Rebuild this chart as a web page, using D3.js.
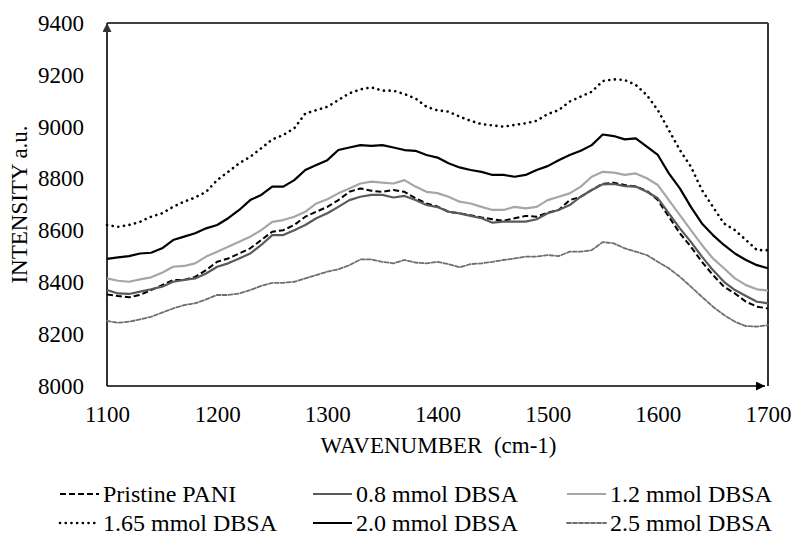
<!DOCTYPE html>
<html>
<head>
<meta charset="utf-8">
<script src="https://cdn.jsdelivr.net/npm/d3@7"></script>
<style>
  body { margin: 0; background: #fff; }
  svg text { font-family: "Liberation Serif", "Times New Roman", serif !important; fill: #000; }
</style>
</head>
<body>
<svg id="chart"></svg>
<script>
// wavenumber samples (cm-1), every 10 units
const wavenumbers = d3.range(1100, 1701, 10);

const pristine = [8353,8347,8342,8351,8370,8389,8409,8409,8421,8447,8479,8492,8511,8531,8563,8595,
  8601,8621,8653,8672,8691,8717,8749,8762,8753,8749,8756,8749,8724,8704,8692,
  8672,8666,8659,8650,8643,8637,8647,8656,8653,8668,8679,8717,8730,8756,8780,
  8784,8775,8769,8753,8717,8653,8589,8537,8479,8428,8383,8357,8325,8306,8299];

const dbsa08 = [8370,8357,8355,8364,8373,8383,8402,8409,8415,8434,8460,8473,8492,8511,8544,8582,
  8582,8601,8621,8647,8666,8691,8717,8730,8737,8737,8727,8733,8717,8698,8690,
  8672,8666,8656,8647,8630,8634,8634,8634,8643,8666,8679,8698,8730,8756,8778,
  8779,8771,8769,8749,8724,8666,8608,8556,8499,8447,8402,8370,8347,8325,8319];

const dbsa12 = [8415,8406,8402,8411,8419,8437,8460,8463,8473,8499,8518,8537,8556,8576,8601,8633,
  8640,8653,8672,8704,8720,8743,8762,8781,8788,8784,8781,8794,8769,8749,8744,
  8730,8711,8704,8691,8679,8679,8691,8685,8691,8717,8730,8743,8769,8807,8826,
  8823,8814,8820,8801,8775,8717,8659,8601,8544,8492,8454,8415,8389,8373,8368];

const dbsa165 = [8621,8614,8621,8633,8653,8666,8691,8711,8727,8749,8794,8826,8859,8884,8917,8951,
  8968,8994,9051,9064,9077,9103,9129,9144,9152,9139,9139,9126,9109,9077,9063,
  9058,9039,9023,9010,9005,9000,9007,9013,9023,9049,9064,9097,9116,9135,9176,
  9183,9180,9161,9122,9064,8987,8910,8846,8756,8691,8627,8601,8563,8524,8524];

const dbsa20 = [8490,8496,8501,8511,8514,8531,8563,8576,8589,8608,8621,8647,8679,8717,8737,8769,
  8769,8794,8833,8852,8871,8910,8920,8929,8926,8929,8920,8910,8907,8891,8881,
  8859,8843,8833,8826,8814,8814,8807,8814,8833,8848,8871,8891,8907,8929,8970,
  8964,8951,8955,8923,8891,8820,8762,8691,8627,8582,8544,8511,8486,8466,8454];

const dbsa25 = [8251,8244,8248,8257,8267,8283,8299,8312,8319,8334,8351,8351,8357,8370,8386,8398,
  8398,8402,8415,8428,8441,8450,8466,8488,8488,8479,8473,8486,8476,8473,8479,
  8470,8458,8470,8473,8479,8486,8492,8499,8499,8505,8501,8518,8518,8524,8555,
  8550,8531,8518,8505,8479,8454,8421,8383,8344,8306,8274,8248,8231,8229,8235];

const seriesNames = ['Pristine PANI', '0.8 mmol DBSA', '1.2 mmol DBSA',
  '1.65 mmol DBSA', '2.0 mmol DBSA', '2.5 mmol DBSA'];
const seriesValues = [pristine, dbsa08, dbsa12, dbsa165, dbsa20, dbsa25];

const xTicks = [1100, 1200, 1300, 1400, 1500, 1600, 1700];
const yTicks = [8000, 8200, 8400, 8600, 8800, 9000, 9200, 9400];

// line styles, same order as seriesNames
const styles = [
  {color: '#000000', width: 2, dash: '6,3', cap: 'butt'},
  {color: '#5a5a5a', width: 2.2, dash: null, cap: 'butt'},
  {color: '#a6a6a6', width: 2.2, dash: null, cap: 'butt'},
  {color: '#000000', width: 2.6, dash: '0.1,5.6', cap: 'round'},
  {color: '#000000', width: 2.2, dash: null, cap: 'butt'},
  {color: '#6e6e6e', width: 1.8, dash: '4,2', cap: 'round'}
];

const serif = '"Liberation Serif", "Times New Roman", serif';

class SpectraChart {
  constructor(_config) {
    this.config = {
      parentElement: _config.parentElement,
      containerWidth: _config.containerWidth || 794,
      containerHeight: _config.containerHeight || 537,
      margin: _config.margin || {top: 23, right: 26, bottom: 151, left: 107}
    };
    this.initVis();
  }

  initVis() {
    let vis = this;

    vis.width = vis.config.containerWidth - vis.config.margin.left - vis.config.margin.right;
    vis.height = vis.config.containerHeight - vis.config.margin.top - vis.config.margin.bottom;

    vis.xScale = d3.scaleLinear()
        .domain([1100, 1700])
        .range([0, vis.width]);

    vis.yScale = d3.scaleLinear()
        .domain([8000, 9400])
        .range([vis.height, 0]);

    vis.svg = d3.select(vis.config.parentElement)
        .attr('width', vis.config.containerWidth)
        .attr('height', vis.config.containerHeight)
        .attr('font-family', serif);

    // arrow heads for the axis lines
    let defs = vis.svg.append('defs');
    defs.append('marker')
        .attr('id', 'arrowUp')
        .attr('viewBox', '0 0 10 10')
        .attr('refX', 10).attr('refY', 5)
        .attr('markerUnits', 'userSpaceOnUse')
        .attr('markerWidth', 11).attr('markerHeight', 9)
        .attr('orient', 'auto')
      .append('path')
        .attr('d', 'M0,0 L10,5 L0,10 Z')
        .attr('fill', '#333');
    defs.append('marker')
        .attr('id', 'arrowRight')
        .attr('viewBox', '0 0 10 10')
        .attr('refX', 10).attr('refY', 5)
        .attr('markerUnits', 'userSpaceOnUse')
        .attr('markerWidth', 11).attr('markerHeight', 9)
        .attr('orient', 'auto')
      .append('path')
        .attr('d', 'M0,0 L10,5 L0,10 Z')
        .attr('fill', '#000');

    vis.chart = vis.svg.append('g')
        .attr('transform', `translate(${vis.config.margin.left}, ${vis.config.margin.top})`);

    // frame: top and right lines
    vis.chart.append('line')
        .attr('x1', 0).attr('x2', vis.width)
        .attr('y1', 0).attr('y2', 0)
        .attr('stroke', '#000').attr('stroke-width', 1.5);
    vis.chart.append('line')
        .attr('x1', vis.width).attr('x2', vis.width)
        .attr('y1', 0).attr('y2', vis.height)
        .attr('stroke', '#333').attr('stroke-width', 2);

    // axis lines with arrows
    vis.chart.append('line')
        .attr('x1', 0).attr('x2', 0)
        .attr('y1', vis.height).attr('y2', 0)
        .attr('stroke', '#333').attr('stroke-width', 2)
        .attr('marker-end', 'url(#arrowUp)');
    vis.chart.append('line')
        .attr('x1', 0).attr('x2', vis.width - 3)
        .attr('y1', vis.height).attr('y2', vis.height)
        .attr('stroke', '#000').attr('stroke-width', 1.5)
        .attr('marker-end', 'url(#arrowRight)');

    vis.xAxis = d3.axisBottom(vis.xScale).tickValues(xTicks).tickSize(0).tickPadding(20).tickFormat(d3.format('d'));
    vis.yAxis = d3.axisLeft(vis.yScale).tickValues(yTicks).tickSize(0).tickPadding(23).tickFormat(d3.format('d'));

    vis.xAxisG = vis.chart.append('g')
        .attr('class', 'axis x-axis')
        .attr('transform', `translate(0, ${vis.height})`);

    vis.yAxisG = vis.chart.append('g')
        .attr('class', 'axis y-axis');

    // X Axis Label
    vis.chart.append('text')
        .attr('x', vis.width / 2 + 1)
        .attr('y', vis.height + 67)
        .attr('font-family', serif)
        .style('text-anchor', 'middle')
        .style('font-size', '23px')
        .style('white-space', 'pre')
        .text('WAVENUMBER  (cm-1)');

    // Y Axis Label
    vis.svg.append('text')
        .attr('transform', `translate(27, ${vis.config.margin.top + vis.height / 2}) rotate(-90)`)
        .attr('font-family', serif)
        .style('text-anchor', 'middle')
        .style('font-size', '23px')
        .text('INTENSITY a.u.');

    vis.line = d3.line()
        .x((d, i) => vis.xScale(wavenumbers[i]))
        .y(d => vis.yScale(d));

    vis.updateVis();
  }

  updateVis() {
    let vis = this;

    vis.xAxisG.call(vis.xAxis);
    vis.yAxisG.call(vis.yAxis);
    vis.svg.selectAll('.axis').attr('font-family', serif).attr('font-size', 23);
    vis.svg.selectAll('.axis path').remove();
    vis.svg.selectAll('.axis text')
        .attr('font-family', serif)
        .style('font-size', '23px')
        .attr('fill', '#000');

    vis.chart.selectAll('.series')
        .data(seriesValues)
      .join('path')
        .attr('class', 'series')
        .attr('fill', 'none')
        .attr('d', d => vis.line(d))
        .attr('stroke', (d, i) => styles[i].color)
        .attr('stroke-width', (d, i) => styles[i].width)
        .attr('stroke-dasharray', (d, i) => styles[i].dash)
        .attr('stroke-linecap', (d, i) => styles[i].cap)
        .attr('stroke-linejoin', 'round');

    // legend: 3 columns, 2 rows
    let legendX = [60, 313, 567];
    let legendY = [494, 523];
    let legend = vis.svg.selectAll('.legend-item')
        .data(seriesNames)
      .join('g')
        .attr('class', 'legend-item')
        .attr('transform', (d, i) => `translate(${legendX[i % 3]}, ${legendY[Math.floor(i / 3)]})`);

    legend.append('line')
        .attr('x1', 0).attr('x2', 39)
        .attr('y1', 0).attr('y2', 0)
        .attr('stroke', (d, i) => styles[i].color)
        .attr('stroke-width', (d, i) => styles[i].width)
        .attr('stroke-dasharray', (d, i) => styles[i].dash)
        .attr('stroke-linecap', (d, i) => styles[i].cap);

    legend.append('text')
        .attr('x', 43)
        .attr('y', 8)
        .attr('font-family', serif)
        .style('font-size', '24px')
        .text(d => d);
  }
}

new SpectraChart({parentElement: '#chart'});
</script>
</body>
</html>
